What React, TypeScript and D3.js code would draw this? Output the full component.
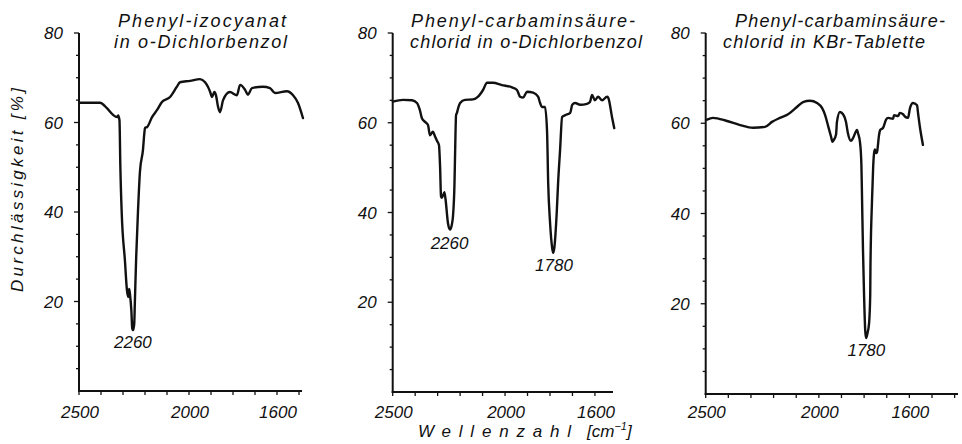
import React from "react";
import * as d3 from "d3";

// ---------- data ----------
const P1_W = [2495, 2405, 2373, 2345, 2327, 2322, 2316, 2312, 2306, 2291, 2282, 2276, 2272, 2268, 2262, 2258, 2254, 2249, 2246, 2240, 2232, 2223, 2209, 2203, 2200, 2190, 2168, 2145, 2123, 2086, 2055, 2041, 1995, 1950, 1927, 1914, 1905, 1895, 1885, 1877, 1868, 1859, 1845, 1814, 1782, 1768, 1745, 1732, 1714, 1664, 1632, 1609, 1555, 1527, 1505, 1482];
const P1_T = [64.4, 64.4, 63.2, 61.7, 61.2, 61.6, 60.5, 50, 40, 29, 22.5, 21, 22.8, 21.5, 18, 14, 13.6, 15, 20, 30, 40, 49, 54, 57.6, 58.8, 59, 61.2, 62.8, 64.6, 65.7, 68, 69, 69.3, 69.7, 69.0, 68, 67, 65.7, 66.8, 66, 63.5, 62.3, 65, 66.8, 66.1, 68.4, 67.3, 66.2, 67.7, 68, 67.7, 66.6, 67, 66.1, 64.4, 61];

const P2_W = [2499, 2454, 2414, 2392, 2379, 2370, 2356, 2343, 2334, 2321, 2312, 2303, 2294, 2289, 2285, 2281, 2270, 2265, 2254, 2245, 2236, 2232, 2225, 2222, 2218, 2214, 2210, 2200, 2178, 2143, 2120, 2098, 2080, 2054, 2014, 1969, 1947, 1933, 1920, 1902, 1875, 1853, 1844, 1836, 1822, 1813, 1808, 1800, 1790, 1786, 1781, 1770, 1764, 1755, 1746, 1732, 1710, 1701, 1688, 1666, 1635, 1622, 1613, 1600, 1586, 1568, 1546, 1541, 1523, 1514];
const P2_T = [64.7, 65.1, 65, 64.4, 62.8, 61, 60.2, 59.5, 57.2, 58, 57, 56, 55, 50, 43.6, 43.3, 44.5, 43, 37.6, 36.2, 37.5, 39, 46.5, 54, 61.7, 62.2, 63, 64.4, 65.1, 65.2, 65.8, 67.3, 68.9, 68.9, 68.4, 67.9, 67.3, 65.8, 65.6, 66.9, 66.7, 65.8, 64.4, 63.5, 63.5, 58, 46.5, 38, 32, 31, 32, 40, 46.5, 54, 61.3, 61.7, 62.2, 64, 64.4, 64, 64.2, 64.6, 66.2, 65, 65.8, 65, 65.8, 65.6, 61, 58.8];

const P3_W = [2494, 2468, 2406, 2348, 2291, 2238, 2207, 2172, 2136, 2097, 2070, 2039, 2008, 1986, 1973, 1960, 1946, 1940, 1935, 1924, 1920, 1907, 1893, 1880, 1872, 1858, 1849, 1831, 1827, 1818, 1812, 1809, 1805, 1800, 1795, 1791, 1785, 1778, 1773, 1772, 1765, 1760, 1756, 1752, 1747, 1743, 1734, 1729, 1716, 1703, 1694, 1672, 1668, 1650, 1642, 1628, 1620, 1606, 1597, 1584, 1566, 1562, 1553, 1540];
const P3_T = [60.8, 61.2, 60.5, 59.6, 59, 59.2, 60.3, 61.2, 62, 63.6, 64.7, 65, 64.5, 63.4, 61.9, 59.6, 57, 55.9, 56.2, 57.5, 60.3, 62.5, 62, 60.3, 57.9, 56.1, 56.7, 58.5, 57.8, 55.7, 50.8, 43, 32, 21.5, 14, 12.4, 13.5, 15.7, 22, 28, 43, 50.3, 53.4, 54.2, 53.4, 53.6, 57.4, 58.5, 59, 60.8, 61.2, 61, 61.8, 61.6, 62.3, 62, 61.5, 61.2, 63.4, 64.5, 64, 62.4, 59, 55.2];

const Y_TICK_LABELS = [20, 40, 60, 80];
const X_TICK_LABELS = [2500, 2000, 1600];

const TITLES = [
  ["Phenyl-izocyanat", "in o-Dichlorbenzol"],
  ["Phenyl-carbaminsäure-", "chlorid in o-Dichlorbenzol"],
  ["Phenyl-carbaminsäure-", "chlorid in KBr-Tablette"],
];
const PEAK_LABELS = [
  [{ w: 2255, t: 13.6, text: "2260" }],
  [{ w: 2247, t: 36.2, text: "2260" }, { w: 1782, t: 31, text: "1780" }],
  [{ w: 1790, t: 12.4, text: "1780" }],
];

// ---------- layout ----------
const FONT = "'Liberation Sans', Arial, sans-serif";
const panels = [
  { x0: 79, pxPer100: 22.0, x1: 302, y0: 391, y80: 33, W: P1_W, T: P1_T,
    title: [{ x: 118, len: 168 }, { x: 114, len: 173 }], peakDy: [18] },
  { x0: 392.7, pxPer100: 22.47, x1: 613, y0: 392, y80: 33, W: P2_W, T: P2_T,
    title: [{ x: 411, len: 224 }, { x: 410, len: 232 }], peakDy: [19, 18] },
  { x0: 705.7, pxPer100: 22.63, x1: 958, y0: 394, y80: 33, W: P3_W, T: P3_T,
    title: [{ x: 735, len: 210 }, { x: 723, len: 202 }], peakDy: [18] },
];

function Panel({ p, i }: { p: any; i: number }) {
  const wEnd = 2500 - ((p.x1 - p.x0) / p.pxPer100) * 100;
  const x = d3.scaleLinear().domain([2500, wEnd]).range([p.x0, p.x1]);
  const y = d3.scaleLinear().domain([0, 80]).range([p.y0, p.y80]);
  const line = d3
    .line<number>()
    .x((_, k) => x(p.W[k]))
    .y((v) => y(v))
    .curve(d3.curveMonotoneX);
  const yMinor = d3.range(5, 81, 5);
  const xTicks = d3.range(2500, wEnd - 1, -100);
  return (
    <g>
      {/* axes */}
      <line x1={p.x0} x2={p.x0} y1={y(80)} y2={p.y0 + 1} stroke="#111" strokeWidth={2} />
      <line x1={p.x0 - 1} x2={p.x1} y1={p.y0} y2={p.y0} stroke="#111" strokeWidth={2.2} />
      {yMinor.map((t) => (
        <line key={"yt" + t} x1={p.x0 - (t % 20 === 0 ? 5 : 3)} x2={p.x0} y1={y(t)} y2={y(t)} stroke="#111" strokeWidth={1.3} />
      ))}
      {xTicks.map((t) => (
        <line key={"xt" + t} x1={x(t)} x2={x(t)} y1={p.y0} y2={p.y0 + 4} stroke="#111" strokeWidth={1.3} />
      ))}
      {Y_TICK_LABELS.map((t) => (
        <text key={"yl" + t} x={p.x0 - 16} y={y(t) + 6} textAnchor="end" fontSize={17} fontStyle="italic" fontFamily={FONT} fill="#111">
          {t}
        </text>
      ))}
      {X_TICK_LABELS.map((t) => (
        <text key={"xl" + t} x={x(t) + 1} y={418} textAnchor="middle" fontSize={17} fontStyle="italic" fontFamily={FONT} fill="#111">
          {t}
        </text>
      ))}
      {/* curve */}
      <path d={line(p.T) || ""} fill="none" stroke="#111" strokeWidth={2.4} strokeLinejoin="round" strokeLinecap="round" />
      {/* title */}
      {TITLES[i].map((s, k) => (
        <text key={"ti" + k} x={p.title[k].x} y={27 + k * 21} fontSize={18} fontStyle="italic" fontFamily={FONT} fill="#111"
          textLength={p.title[k].len} lengthAdjust="spacing">
          {s}
        </text>
      ))}
      {PEAK_LABELS[i].map((pk, k) => (
        <text key={"pk" + k} x={x(pk.w)} y={y(pk.t) + p.peakDy[k]} textAnchor="middle" fontSize={17} fontStyle="italic" fontFamily={FONT} fill="#111">
          {pk.text}
        </text>
      ))}
    </g>
  );
}

export default function App() {
  return (
    <svg width={962} height={444} style={{ position: "absolute", left: 0, top: 0, background: "#fff" }}>
      <rect width={962} height={444} fill="#fff" />
      {panels.map((p, i) => (
        <Panel key={i} p={p} i={i} />
      ))}
      <text transform="translate(23,292) rotate(-90)" fontSize={17} fontStyle="italic" fontFamily={FONT} fill="#111"
        textLength={204} lengthAdjust="spacing">
        Durchlässigkeit [%]
      </text>
      <text x={418} y={437} fontSize={17} fontStyle="italic" fontFamily={FONT} fill="#111" textLength={153} lengthAdjust="spacing">
        Wellenzahl
      </text>
      <text x={587} y={437} fontSize={17} fontStyle="italic" fontFamily={FONT} fill="#111">
        [cm<tspan fontSize={11} dy={-7}>−1</tspan><tspan dy={7}>]</tspan>
      </text>
    </svg>
  );
}
